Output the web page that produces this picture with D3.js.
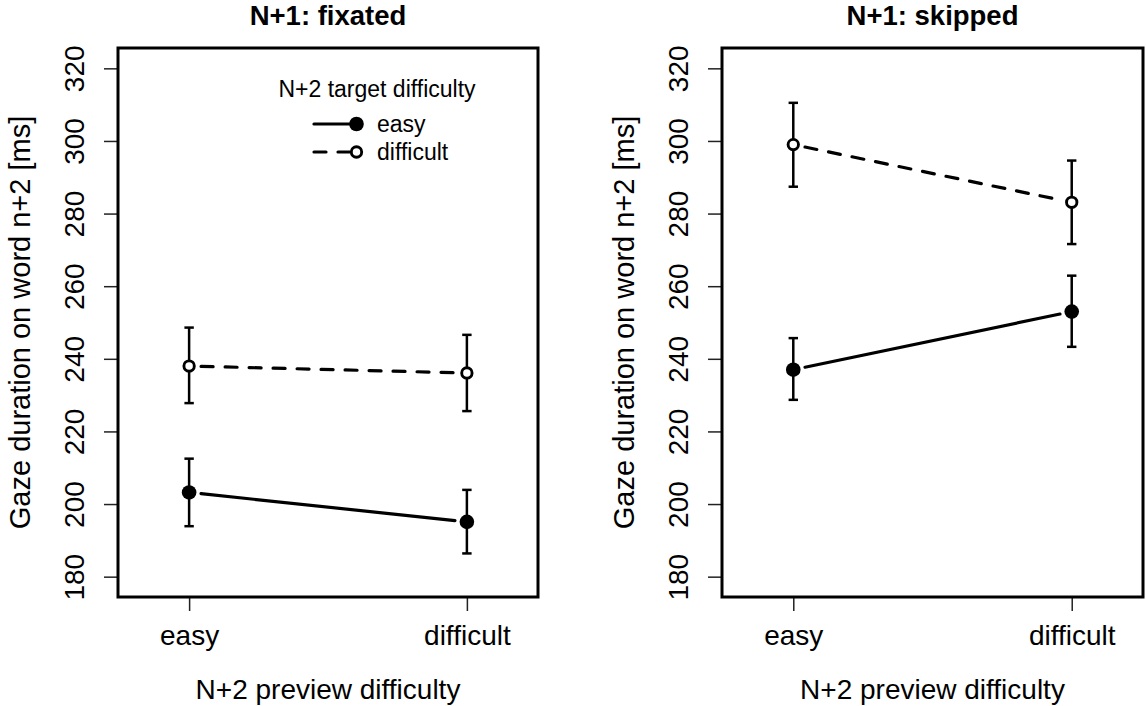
<!DOCTYPE html>
<html>
<head>
<meta charset="utf-8">
<script src="https://cdn.jsdelivr.net/npm/d3@7"></script>
<style>
  body { margin: 0; background: #fff; }
  text { font-family: "Liberation Sans", Arial, Helvetica, sans-serif; fill: #000; }
</style>
</head>
<body>
<svg id="chart" width="1146" height="706"></svg>
<script>
// data
const previewLevels = ["easy", "difficult"];
const targetLevels = ["easy", "difficult"];
const panelTitles = ["N+1: fixated", "N+1: skipped"];
const yTicks = [180, 200, 220, 240, 260, 280, 300, 320];

// N+1 fixated
const fixEasyMean = [203.2, 195.1];
const fixEasyLow = [193.9, 186.4];
const fixEasyHigh = [212.5, 203.9];
const fixDiffMean = [238.0, 236.1];
const fixDiffLow = [227.8, 225.6];
const fixDiffHigh = [248.6, 246.6];

// N+1 skipped
const skipEasyMean = [237.0, 253.0];
const skipEasyLow = [228.7, 243.3];
const skipEasyHigh = [245.7, 262.9];
const skipDiffMean = [299.0, 283.1];
const skipDiffLow = [287.4, 271.6];
const skipDiffHigh = [310.5, 294.6];

const panels = [
  { title: panelTitles[0], left: 118, right: 538, series: [
    { target: "easy", mean: fixEasyMean, low: fixEasyLow, high: fixEasyHigh },
    { target: "difficult", mean: fixDiffMean, low: fixDiffLow, high: fixDiffHigh }
  ], legend: true },
  { title: panelTitles[1], left: 722, right: 1143, series: [
    { target: "easy", mean: skipEasyMean, low: skipEasyLow, high: skipEasyHigh },
    { target: "difficult", mean: skipDiffMean, low: skipDiffLow, high: skipDiffHigh }
  ], legend: false }
];

const plotTop = 48, plotBottom = 597;
const svg = d3.select("#chart");
svg.append("rect").attr("width", 1146).attr("height", 706).attr("fill", "#fff");

const lineW = 3.2;
const dash = "12,12";
const gap = 12;

function drawPoint(g, x, y, target) {
  if (target === "easy") {
    g.append("circle").attr("cx", x).attr("cy", y).attr("r", 7.3).attr("fill", "#000");
  } else {
    g.append("circle").attr("cx", x).attr("cy", y).attr("r", 5.2)
      .attr("fill", "#fff").attr("stroke", "#000").attr("stroke-width", 2.9);
  }
}

panels.forEach(p => {
  // R style: xlim c(0.8, 2.2), ylim c(180, 320), with 4% padding
  const x = d3.scaleLinear().domain([0.744, 2.256]).range([p.left, p.right]);
  const y = d3.scaleLinear().domain([174.4, 325.6]).range([plotBottom, plotTop]);
  const g = svg.append("g");

  // y axis
  const yAx = g.append("g").attr("transform", `translate(${p.left},0)`)
    .call(d3.axisLeft(y).tickValues(yTicks).tickSize(14).tickPadding(0).tickFormat(d3.format("d")));
  yAx.select(".domain").remove();
  yAx.selectAll(".tick line").attr("stroke", "#222").attr("stroke-width", 1.5);
  yAx.selectAll(".tick text").attr("transform", "rotate(-90)")
    .attr("x", 0).attr("y", -34).attr("dy", 0)
    .attr("text-anchor", "middle")
    .style("font-size", "28px").style("font-family", "Liberation Sans, Arial, sans-serif");

  // x axis
  const xAx = g.append("g").attr("transform", `translate(0,${plotBottom})`)
    .call(d3.axisBottom(x).tickValues([1, 2]).tickSize(14).tickPadding(0)
      .tickFormat((d, i) => previewLevels[i]));
  xAx.select(".domain").remove();
  xAx.selectAll(".tick line").attr("stroke", "#222").attr("stroke-width", 1.5);
  xAx.selectAll(".tick text").attr("y", 48).attr("dy", 0)
    .style("font-size", "28px").style("font-family", "Liberation Sans, Arial, sans-serif");

  // box
  g.append("rect").attr("x", p.left).attr("y", plotTop)
    .attr("width", p.right - p.left).attr("height", plotBottom - plotTop)
    .attr("fill", "none").attr("stroke", "#000").attr("stroke-width", 3);

  // titles
  const cx = (p.left + p.right) / 2;
  g.append("text").attr("x", cx).attr("y", 25).attr("text-anchor", "middle")
    .style("font-size", "27.5px").style("font-weight", "bold").text(p.title);
  g.append("text").attr("x", cx).attr("y", 699).attr("text-anchor", "middle")
    .style("font-size", "28px").text("N+2 preview difficulty");
  g.append("text").attr("transform", `translate(${p.left - 88},${(plotTop + plotBottom) / 2}) rotate(-90)`)
    .attr("text-anchor", "middle").style("font-size", "29px")
    .text("Gaze duration on word n+2 [ms]");

  // series
  p.series.forEach(s => {
    const pts = s.mean.map((m, i) => [x(i + 1), y(m)]);
    // connecting line with gaps around the points (type = "b")
    for (let i = 0; i < pts.length - 1; i++) {
      const [x0, y0] = pts[i], [x1, y1] = pts[i + 1];
      const len = Math.hypot(x1 - x0, y1 - y0);
      const ux = (x1 - x0) / len, uy = (y1 - y0) / len;
      const seg = [[x0 + ux * gap, y0 + uy * gap], [x1 - ux * gap, y1 - uy * gap]];
      g.append("path").attr("d", d3.line()(seg))
        .attr("fill", "none").attr("stroke", "#000").attr("stroke-width", lineW)
        .attr("stroke-linecap", "round")
        .attr("stroke-dasharray", s.target === "difficult" ? dash : null);
    }
    // error bars
    s.mean.forEach((m, i) => {
      const xi = x(i + 1);
      g.append("line").attr("x1", xi).attr("x2", xi)
        .attr("y1", y(s.low[i])).attr("y2", y(s.high[i]))
        .attr("stroke", "#000").attr("stroke-width", 2.5);
      [s.low[i], s.high[i]].forEach(v => {
        g.append("line").attr("x1", xi - 4.7).attr("x2", xi + 4.7)
          .attr("y1", y(v)).attr("y2", y(v))
          .attr("stroke", "#000").attr("stroke-width", 2.5);
      });
    });
    pts.forEach(([px, py]) => drawPoint(g, px, py, s.target));
  });

  // legend
  if (p.legend) {
    const lg = g.append("g");
    lg.append("text").attr("x", 377).attr("y", 97).attr("text-anchor", "middle")
      .style("font-size", "23px").text("N+2 target difficulty");
    const rows = [124, 152];
    targetLevels.forEach((t, i) => {
      const ry = rows[i];
      lg.append("line").attr("x1", 314).attr("x2", 350).attr("y1", ry).attr("y2", ry)
        .attr("stroke", "#000").attr("stroke-width", lineW).attr("stroke-linecap", "round")
        .attr("stroke-dasharray", t === "difficult" ? dash : null);
      drawPoint(lg, 356.5, ry, t);
      lg.append("text").attr("x", 377).attr("y", ry + 8)
        .style("font-size", "23px").text(t);
    });
  }
});
</script>
</body>
</html>
